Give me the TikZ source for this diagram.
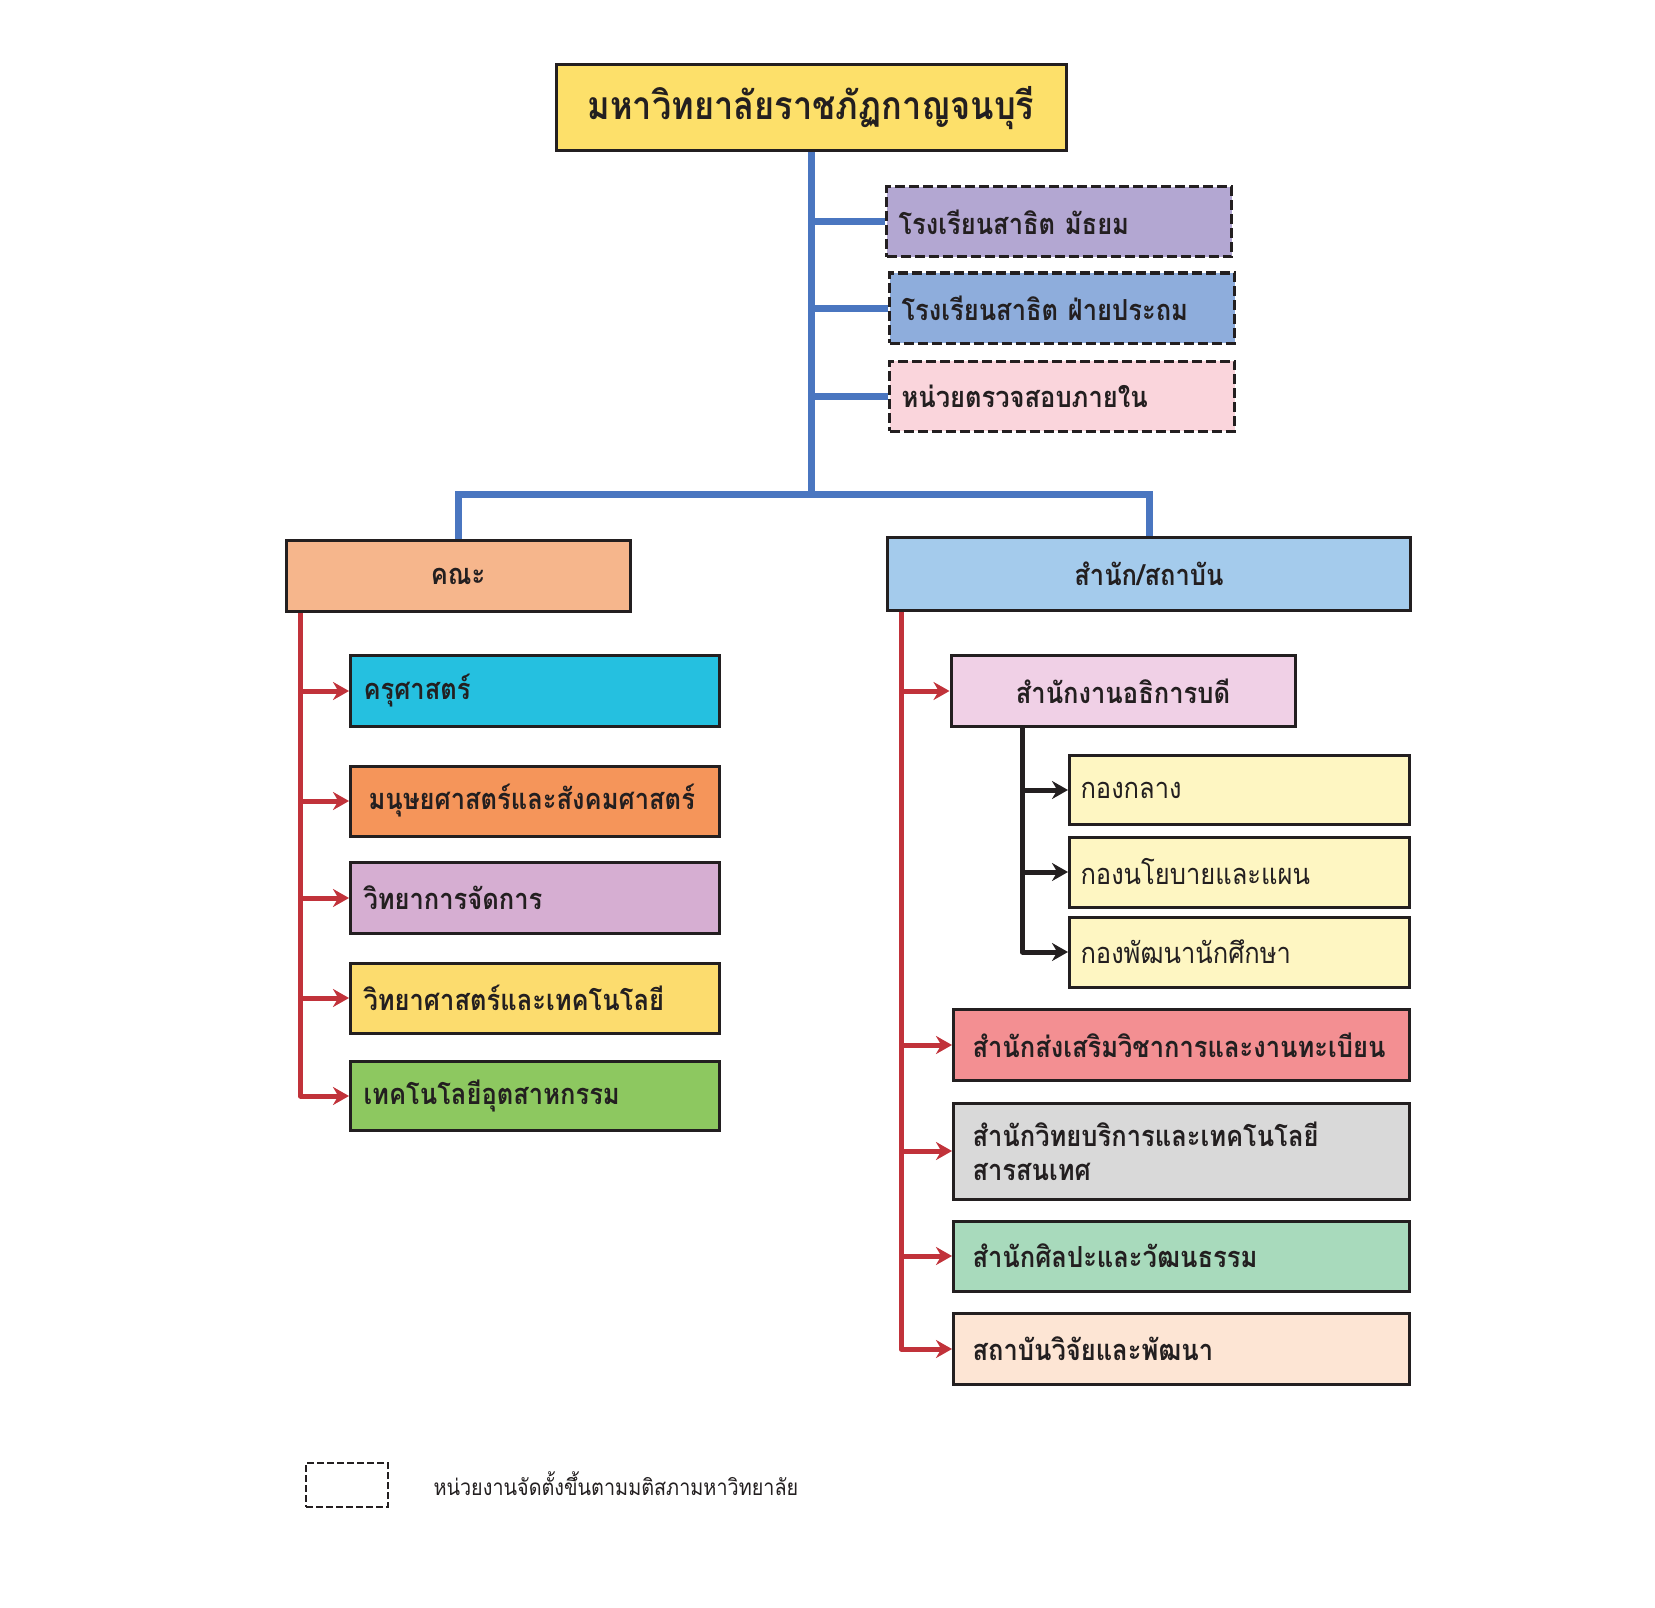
\documentclass[tikz,border=0pt]{standalone}
\usepackage{fontspec}
\setmainfont{Loma}[Script=Thai,FakeStretch=0.88]
\usetikzlibrary{arrows.meta}
\definecolor{ink}{RGB}{35,31,32}
\definecolor{cTop}{RGB}{253,224,106}
\definecolor{cLine}{RGB}{74,118,192}
\definecolor{cRed}{RGB}{193,50,58}
\definecolor{cSchA}{RGB}{179,167,210}
\definecolor{cSchB}{RGB}{142,173,220}
\definecolor{cAudit}{RGB}{250,213,220}
\definecolor{cFac}{RGB}{246,182,140}
\definecolor{cOff}{RGB}{164,203,236}
\definecolor{cEdu}{RGB}{37,192,224}
\definecolor{cHum}{RGB}{245,149,90}
\definecolor{cMan}{RGB}{214,174,210}
\definecolor{cSci}{RGB}{252,220,110}
\definecolor{cInd}{RGB}{141,200,96}
\definecolor{cPres}{RGB}{240,208,230}
\definecolor{cDiv}{RGB}{254,246,194}
\definecolor{cReg}{RGB}{243,143,146}
\definecolor{cLib}{RGB}{217,217,217}
\definecolor{cArt}{RGB}{168,218,188}
\definecolor{cRes}{RGB}{253,229,212}
\tikzset{
  box/.style={draw=ink,line width=3,text=ink,inner ysep=0,font=\fontsize{29}{34}\selectfont\bfseries},
  lbox/.style={box,anchor=west,align=left,inner xsep=#1},
  sbox/.style={box,dash pattern=on 10 off 4,anchor=west,align=left,inner xsep=12,text width=321,minimum height=70},
  bluelink/.style={cLine,line width=7},
  redarrow/.style={-{Stealth[length=16,width=18]},cRed,line width=5,line join=round},
  blackarrow/.style={-{Stealth[length=16,width=18]},ink,line width=5,line join=round}
}
\begin{document}
\begin{tikzpicture}[x=1pt,y=-1pt]
  \useasboundingbox[fill=white] (0,0) rectangle (1655,1608);

  % top and school units
  \node[box,fill=cTop,minimum width=510,minimum height=86,font=\fontsize{39}{46}\selectfont\bfseries] (uni) at (811,108) {มหาวิทยาลัยราชภัฏกาญจนบุรี};
  \node[sbox,fill=cSchA] (schA) at (885,222) {โรงเรียนสาธิต~มัธยม};
  \node[sbox,fill=cSchB] (schB) at (888,308) {โรงเรียนสาธิต~ฝ่ายประถม};
  \node[sbox,fill=cAudit] (audit) at (888,396) {หน่วยตรวจสอบภายใน};
  \coordinate (bus) at (811,494);

  % two groups
  \node[box,fill=cFac,minimum width=344,minimum height=71] (fac) at (458,576) {คณะ};
  \node[box,fill=cOff,minimum width=523,minimum height=73] (off) at (1149,574) {สำนัก/สถาบัน};

  % faculties
  \node[lbox=13,fill=cEdu,text width=343,minimum height=71] (f1) at (349,691) {ครุศาสตร์};
  \node[lbox=18,fill=cHum,text width=333,minimum height=70] (f2) at (349,801) {มนุษยศาสตร์และสังคมศาสตร์};
  \node[lbox=13,fill=cMan,text width=343,minimum height=71] (f3) at (349,898) {วิทยาการจัดการ};
  \node[lbox=13,fill=cSci,text width=343,minimum height=70] (f4) at (349,998) {วิทยาศาสตร์และเทคโนโลยี};
  \node[lbox=13,fill=cInd,text width=343,minimum height=69] (f5) at (349,1096) {เทคโนโลยีอุตสาหกรรม};

  % offices and institutes
  \node[box,fill=cPres,minimum width=344,minimum height=71] (o1) at (1123,691) {สำนักงานอธิการบดี};
  \node[lbox=11,fill=cDiv,text width=318,minimum height=69,font=\fontsize{29}{34}\selectfont] (s1) at (1068,790) {กองกลาง};
  \node[lbox=11,fill=cDiv,text width=318,minimum height=70,font=\fontsize{29}{34}\selectfont] (s2) at (1068,872) {กองนโยบายและแผน};
  \node[lbox=11,fill=cDiv,text width=318,minimum height=70,font=\fontsize{29}{34}\selectfont] (s3) at (1068,952) {กองพัฒนานักศึกษา};
  \node[lbox=19,fill=cReg,text width=418,minimum height=71] (o2) at (952,1045) {สำนักส่งเสริมวิชาการและงานทะเบียน};
  \node[lbox=19,fill=cLib,text width=418,minimum height=96] (o3) at (952,1151) {สำนักวิทยบริการและเทคโนโลยี\\สารสนเทศ};
  \node[lbox=19,fill=cArt,text width=418,minimum height=70] (o4) at (952,1256) {สำนักศิลปะและวัฒนธรรม};
  \node[lbox=19,fill=cRes,text width=418,minimum height=71] (o5) at (952,1349) {สถาบันวิจัยและพัฒนา};

  % legend
  \node[draw=ink,line width=2.5,dash pattern=on 7 off 3,minimum width=82,minimum height=44] (key) at (347,1485) {};
  \node[anchor=west,text=ink,font=\fontsize{22.5}{28}\selectfont] (keytext) at (430,1484) {หน่วยงานจัดตั้งขึ้นตามมติสภามหาวิทยาลัย};

  % connectors
  \draw[bluelink] (uni.south) -- (bus);
  \draw[bluelink,line join=miter] (fac.north) |- (bus) -| (off.north);
  \foreach \n in {schA,schB,audit}
    \draw[bluelink] (uni.south |- \n.west) -- (\n.west);

  \coordinate (fspine) at ([xshift=16]fac.south west);
  \draw[redarrow] (fspine) |- (f5.west);
  \foreach \n in {f1,f2,f3,f4}
    \draw[redarrow] (fspine |- \n.west) -- (\n.west);

  \coordinate (ospine) at ([xshift=15]off.south west);
  \draw[redarrow] (ospine) |- (o5.west);
  \foreach \n in {o1,o2,o3,o4}
    \draw[redarrow] (ospine |- \n.west) -- (\n.west);

  \coordinate (aspine) at ([xshift=73]o1.south west);
  \draw[blackarrow] (aspine) |- (s3.west);
  \foreach \n in {s1,s2}
    \draw[blackarrow] (aspine |- \n.west) -- (\n.west);
\end{tikzpicture}
\end{document}
